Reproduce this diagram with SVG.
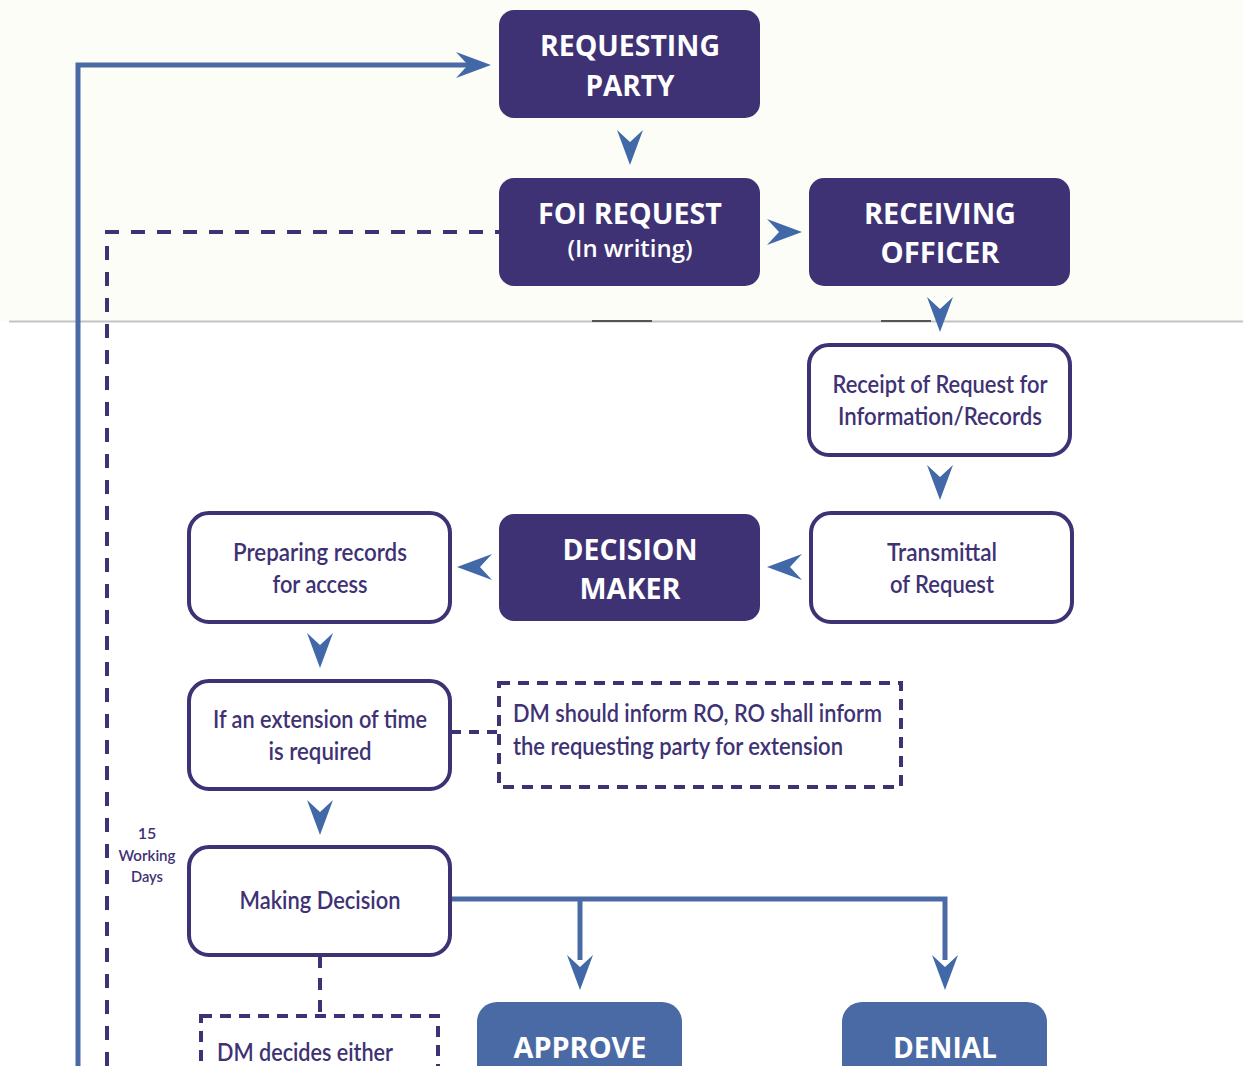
<svg xmlns="http://www.w3.org/2000/svg" width="1243" height="1066" viewBox="0 0 1243 1066">
<style>
.dark{fill:#3e3274}
.out{fill:#ffffff;stroke:#3e3274;stroke-width:4}
.blue{fill:#4a6aa5}
.dbox{fill:none;stroke:#3e3274;stroke-width:4;stroke-dasharray:11 8}
.hd{font-family:"Open Sans","Liberation Sans",sans-serif;font-weight:700;font-size:28px;fill:#ffffff;text-anchor:middle}
.sub{font-family:"Open Sans","Liberation Sans",sans-serif;font-weight:600;font-size:24px;fill:#ffffff;text-anchor:middle}
.lb{font-family:Lato,"Liberation Sans",sans-serif;font-weight:600;font-size:25px;fill:#3e3274;text-anchor:middle}
.lbl{font-family:Lato,"Liberation Sans",sans-serif;font-weight:600;font-size:25px;fill:#3e3274}
.sm{font-family:Lato,"Liberation Sans",sans-serif;font-weight:600;font-size:16px;fill:#3e3274;text-anchor:middle}
.line{fill:none;stroke:#4a6aa5;stroke-width:5}
.dash{fill:none;stroke:#3e3274;stroke-width:4;stroke-dasharray:14 14}
.ah{fill:#4169a8}
</style>
<defs>
<path id="dart" d="M-13,0 L0,12 L13,0 L0,35 Z"/>
</defs>
<rect x="0" y="0" width="1243" height="321" fill="#fdfdf8"/>
<rect x="0" y="321" width="1243" height="745" fill="#ffffff"/>
<line x1="9" y1="321.5" x2="1243" y2="321.5" stroke="#c4c4c4" stroke-width="2"/>
<rect x="592" y="320" width="60" height="2" fill="#555555"/>
<rect x="881" y="320" width="50" height="2" fill="#555555"/>

<g id="connectors">
<path class="line" d="M78,1066 V65 H468"/>
<use href="#dart" class="ah" transform="translate(456,65) rotate(-90)"/>
<path class="dash" d="M107,1066 V232 H499" style="stroke-dasharray:14 12"/>
<use href="#dart" class="ah" transform="translate(630,130)"/>
<use href="#dart" class="ah" transform="translate(767,232) rotate(-90)"/>
<use href="#dart" class="ah" transform="translate(940,297)"/>
<use href="#dart" class="ah" transform="translate(940,465)"/>
<use href="#dart" class="ah" transform="translate(802,567) rotate(90)"/>
<use href="#dart" class="ah" transform="translate(492,567) rotate(90)"/>
<use href="#dart" class="ah" transform="translate(320,633)"/>
<use href="#dart" class="ah" transform="translate(320,800)"/>
<path class="dbox" d="M451,732 H498" style="stroke-dasharray:10 8"/>
<path class="line" d="M451,899 H945 V960"/>
<path class="line" d="M580,899 V960"/>
<use href="#dart" class="ah" transform="translate(580,955)"/>
<use href="#dart" class="ah" transform="translate(945,955)"/>
<path class="dbox" d="M320,956 V1015" style="stroke-dasharray:12 10"/>
</g>

<g id="requesting-party">
<rect class="dark" x="499" y="10" width="261" height="108" rx="15"/>
<text class="hd" x="630" y="56" textLength="180" lengthAdjust="spacingAndGlyphs">REQUESTING</text>
<text class="hd" x="630" y="96" textLength="89" lengthAdjust="spacingAndGlyphs">PARTY</text>
</g>
<g id="foi-request">
<rect class="dark" x="499" y="178" width="261" height="108" rx="15"/>
<text class="hd" x="630" y="224" textLength="184" lengthAdjust="spacingAndGlyphs">FOI REQUEST</text>
<text class="sub" x="630" y="257" textLength="125" lengthAdjust="spacingAndGlyphs">(In writing)</text>
</g>
<g id="receiving-officer">
<rect class="dark" x="809" y="178" width="261" height="108" rx="15"/>
<text class="hd" x="940" y="224" textLength="152" lengthAdjust="spacingAndGlyphs">RECEIVING</text>
<text class="hd" x="940" y="263" textLength="119" lengthAdjust="spacingAndGlyphs">OFFICER</text>
</g>
<g id="receipt">
<rect class="out" x="809" y="345" width="261" height="110" rx="20"/>
<text class="lb" x="940" y="393" textLength="215" lengthAdjust="spacingAndGlyphs">Receipt of Request for</text>
<text class="lb" x="940" y="425" textLength="204" lengthAdjust="spacingAndGlyphs">Information/Records</text>
</g>
<g id="transmittal">
<rect class="out" x="811" y="513" width="261" height="109" rx="20"/>
<text class="lb" x="942" y="561" textLength="110" lengthAdjust="spacingAndGlyphs">Transmittal</text>
<text class="lb" x="942" y="593" textLength="104" lengthAdjust="spacingAndGlyphs">of Request</text>
</g>
<g id="decision-maker">
<rect class="dark" x="499" y="514" width="261" height="107" rx="15"/>
<text class="hd" x="630" y="560" textLength="135" lengthAdjust="spacingAndGlyphs">DECISION</text>
<text class="hd" x="630" y="599" textLength="101" lengthAdjust="spacingAndGlyphs">MAKER</text>
</g>
<g id="preparing-records">
<rect class="out" x="189" y="513" width="261" height="109" rx="20"/>
<text class="lb" x="320" y="561" textLength="174" lengthAdjust="spacingAndGlyphs">Preparing records</text>
<text class="lb" x="320" y="593" textLength="95" lengthAdjust="spacingAndGlyphs">for access</text>
</g>
<g id="extension">
<rect class="out" x="189" y="681" width="261" height="108" rx="20"/>
<text class="lb" x="320" y="728" textLength="214" lengthAdjust="spacingAndGlyphs">If an extension of time</text>
<text class="lb" x="320" y="760" textLength="103" lengthAdjust="spacingAndGlyphs">is required</text>
</g>
<g id="inform-note">
<rect class="dbox" x="499" y="683" width="402" height="104"/>
<text class="lbl" x="513" y="722" textLength="369" lengthAdjust="spacingAndGlyphs">DM should inform RO, RO shall inform</text>
<text class="lbl" x="513" y="755" textLength="330" lengthAdjust="spacingAndGlyphs">the requesting party for extension</text>
</g>
<g id="working-days">
<text class="sm" x="147" y="839">15</text>
<text class="sm" x="147" y="861" textLength="57" lengthAdjust="spacingAndGlyphs">Working</text>
<text class="sm" x="147" y="882" textLength="32" lengthAdjust="spacingAndGlyphs">Days</text>
</g>
<g id="making-decision">
<rect class="out" x="189" y="847" width="261" height="108" rx="20"/>
<text class="lb" x="320" y="909" textLength="161" lengthAdjust="spacingAndGlyphs">Making Decision</text>
</g>
<g id="dm-decides">
<rect class="dbox" x="201" y="1016" width="237" height="80"/>
<text class="lbl" x="217" y="1061" textLength="176" lengthAdjust="spacingAndGlyphs">DM decides either</text>
</g>
<g id="approve">
<rect class="blue" x="477" y="1002" width="205" height="100" rx="20"/>
<text class="hd" x="580" y="1058" textLength="133" lengthAdjust="spacingAndGlyphs">APPROVE</text>
</g>
<g id="denial">
<rect class="blue" x="842" y="1002" width="205" height="100" rx="20"/>
<text class="hd" x="945" y="1058" textLength="104" lengthAdjust="spacingAndGlyphs">DENIAL</text>
</g>
</svg>
